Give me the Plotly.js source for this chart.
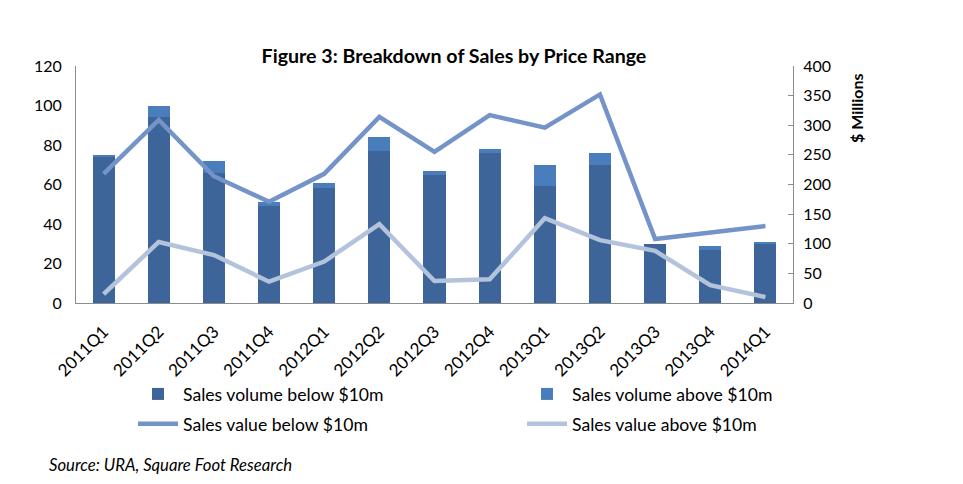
<!DOCTYPE html>
<html>
<head>
<meta charset="utf-8">
<script src="https://cdn.plot.ly/plotly-3.0.1.min.js"></script>
<style>
  html, body { margin: 0; padding: 0; background: #ffffff; }
  #chart { width: 963px; height: 484px; }
</style>
</head>
<body>
<div id="chart"></div>
<script>
// Quarterly periods
const quarters = ['2011Q1', '2011Q2', '2011Q3', '2011Q4', '2012Q1', '2012Q2', '2012Q3',
                  '2012Q4', '2013Q1', '2013Q2', '2013Q3', '2013Q4', '2014Q1'];

// Number of transactions (left axis)
const volumeBelow10m = [74, 94, 66, 49, 58, 77, 65, 76, 59, 70, 30, 27, 30];
const volumeAbove10m = [1, 6, 6, 2, 3, 7, 2, 2, 11, 6, 0, 2, 1];

// Transaction value in $ millions (right axis)
const valueBelow10m = [218, 309, 214, 171, 218, 314, 255, 317, 296, 352, 108, 119, 130];
const valueAbove10m = [15, 103, 81, 36, 70, 133, 37, 40, 143, 106, 88, 30, 10];

const leftTicks = [0, 20, 40, 60, 80, 100, 120];
const rightTicks = [0, 50, 100, 150, 200, 250, 300, 350, 400];

const FONT = 'Lato, "Open Sans", sans-serif';
const TEXT = '#000000';

// "below $10m" series go in the left legend column, "above $10m" in the right one
const traces = [
  {
    type: 'bar', name: 'Sales volume below $10m',
    x: quarters, y: volumeBelow10m, yaxis: 'y',
    width: 0.4, marker: { color: '#3d6599' },
    legend: 'legend', legendgroup: 'g1'
  },
  {
    type: 'bar', name: 'Sales volume above $10m',
    x: quarters, y: volumeAbove10m, yaxis: 'y',
    width: 0.4, marker: { color: '#4a7dbb' },
    legend: 'legend2', legendgroup: 'g3'
  },
  {
    type: 'scatter', mode: 'lines', name: 'Sales value below $10m',
    x: quarters, y: valueBelow10m, yaxis: 'y2',
    line: { color: '#7493c8', width: 4.5 },
    legend: 'legend', legendgroup: 'g2'
  },
  {
    type: 'scatter', mode: 'lines', name: 'Sales value above $10m',
    x: quarters, y: valueAbove10m, yaxis: 'y2',
    line: { color: '#b3c3dc', width: 4.5 },
    legend: 'legend2', legendgroup: 'g4'
  }
];

const legendStyle = {
  orientation: 'v',
  xanchor: 'left',
  y: (303 - 376) / 237, yanchor: 'top',
  font: { family: FONT, size: 17.6, color: TEXT },
  traceorder: 'grouped',
  tracegroupgap: 4,
  itemwidth: 40,
  bgcolor: 'rgba(0,0,0,0)'
};

const layout = {
  width: 963, height: 484,
  paper_bgcolor: '#ffffff', plot_bgcolor: '#ffffff',
  margin: { l: 76, r: 170, t: 66, b: 181 },
  font: { family: FONT, size: 16, color: TEXT },
  barmode: 'stack',
  showlegend: true,
  title: {
    text: '<b>Figure 3: Breakdown of Sales by Price Range</b>',
    font: { family: FONT, size: 19.6, color: TEXT },
    xref: 'container', x: 0.4714, xanchor: 'center',
    yref: 'container', y: 0.884, yanchor: 'middle'
  },
  xaxis: {
    type: 'category',
    tickangle: -45,
    tickfont: { family: FONT, size: 17, color: TEXT },
    showline: true, linecolor: '#8c8c8c', linewidth: 1,
    showgrid: false, zeroline: false, ticks: '',
    ticklabelstandoff: 11,
    automargin: false
  },
  yaxis: {
    range: [0, 120], tickvals: leftTicks,
    tickfont: { family: FONT, size: 16, color: TEXT },
    showline: true, linecolor: '#8c8c8c', linewidth: 1,
    showgrid: false, zeroline: false, ticks: '', ticklen: 0,
    ticklabelstandoff: 10, automargin: false
  },
  yaxis2: {
    overlaying: 'y', side: 'right',
    range: [0, 400], tickvals: rightTicks,
    tickfont: { family: FONT, size: 16, color: TEXT },
    showline: true, linecolor: '#8c8c8c', linewidth: 1,
    showgrid: false, zeroline: false,
    ticks: 'inside', ticklen: 5, tickcolor: '#8c8c8c',
    ticklabelstandoff: 6, automargin: false
  },
  legend: Object.assign({}, legendStyle, { x: (133 - 76) / 717 }),
  legend2: Object.assign({}, legendStyle, { x: (522 - 76) / 717 }),
  annotations: [
    {
      // right-axis unit label, sitting near the top of the axis
      text: '<b>$ Millions</b>',
      xref: 'paper', yref: 'paper',
      x: (857 - 76) / 717, xanchor: 'center',
      y: (303 - 108) / 237, yanchor: 'middle',
      textangle: -90,
      showarrow: false,
      font: { family: FONT, size: 16, color: TEXT }
    },
    {
      text: '<i>Source: URA, Square Foot Research</i>',
      xref: 'paper', yref: 'paper',
      x: -0.04, xanchor: 'left',
      y: (303 - 465) / 237, yanchor: 'middle',
      showarrow: false,
      font: { family: FONT, size: 16.7, color: TEXT }
    }
  ]
};

Plotly.newPlot('chart', traces, layout, { displayModeBar: false, staticPlot: true });
</script>
</body>
</html>
